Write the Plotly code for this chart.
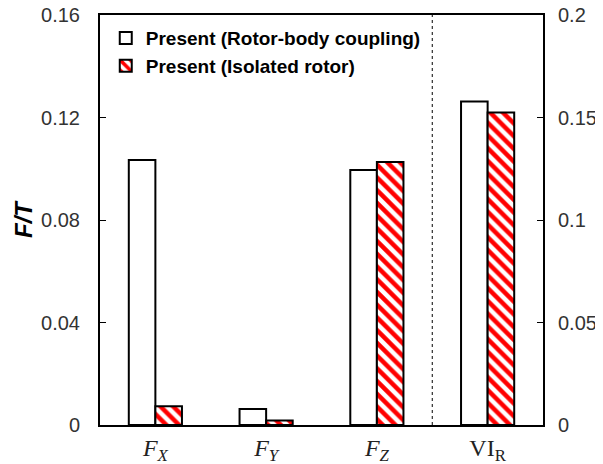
import plotly.graph_objects as go

categories = ["<i>F</i><sub><i>X</i></sub>", "<i>F</i><sub><i>Y</i></sub>", "<i>F</i><sub><i>Z</i></sub>", "VI<sub>R</sub>"]
force_cats = categories[:3]
vi_cats = categories[3:]
coupled_force = [0.1034, 0.0062, 0.0995]
isolated_force = [0.0073, 0.0018, 0.1026]
coupled_vi = [0.1578]
isolated_vi = [0.1524]
left_ticks = [0, 0.04, 0.08, 0.12, 0.16]
left_labels = ["0", "0.04", "0.08", "0.12", "0.16"]
right_ticks = [0, 0.05, 0.1, 0.15, 0.2]
right_labels = ["0", "0.05", "0.1", "0.15", "0.2"]

W = 0.24
line = dict(color="black", width=2)
hatch = dict(shape="\\", fgcolor="#ff0000", bgcolor="white", size=9, solidity=0.5, fgopacity=1)

fig = go.Figure()
fig.add_trace(go.Bar(x=force_cats, y=coupled_force, name="<b>Present (Rotor-body coupling)</b>",
                     marker=dict(color="white", line=line), width=W, offset=-W,
                     legendgroup="a"))
fig.add_trace(go.Bar(x=force_cats, y=isolated_force, name="<b>Present (Isolated rotor)</b>",
                     marker=dict(color="white", line=line, pattern=hatch), width=W, offset=0,
                     legendgroup="b"))
fig.add_trace(go.Bar(x=vi_cats, y=coupled_vi, showlegend=False, yaxis="y2",
                     marker=dict(color="white", line=line), width=W, offset=-W,
                     legendgroup="a"))
fig.add_trace(go.Bar(x=vi_cats, y=isolated_vi, showlegend=False, yaxis="y2",
                     marker=dict(color="white", line=line, pattern=hatch), width=W, offset=0,
                     legendgroup="b"))

fig.add_shape(type="line", xref="x", yref="paper", x0=2.5, x1=2.5, y0=0, y1=1,
              line=dict(color="black", width=1, dash="dot"))

fig.update_layout(
    width=603, height=464,
    margin=dict(l=92, r=68, t=7, b=47, autoexpand=False),
    paper_bgcolor="white", plot_bgcolor="white",
    barmode="overlay",
    showlegend=True,
    legend=dict(x=0.013, y=0.99, xanchor="left", yanchor="top",
                font=dict(family="Arial, Liberation Sans", size=19, color="black"),
                bgcolor="rgba(0,0,0,0)", traceorder="grouped", tracegroupgap=0, itemwidth=30),
    xaxis=dict(categoryorder="array", categoryarray=categories, automargin=False,
               range=[-0.5, 3.5], showline=True, linecolor="black", linewidth=2,
               mirror=True, ticks="", showgrid=False,
               tickfont=dict(family="Times New Roman, Liberation Serif", size=24, color="#222")),
    yaxis=dict(range=[0, 0.16], tickvals=left_ticks, ticktext=left_labels, automargin=False,
               showline=True, linecolor="black", linewidth=2, mirror=True,
               ticks="inside", ticklen=6, tickwidth=1, tickcolor="black", showgrid=False, zeroline=False,
               ticklabelstandoff=14, ticklabeloverflow="allow",
               tickfont=dict(family="Arial, Liberation Sans", size=20, color="#333"),
               title=dict(text="<b><i>F/T</i></b>", standoff=2,
                          font=dict(family="Arial, Liberation Sans", size=24, color="black"))),
    yaxis2=dict(range=[0, 0.2], tickvals=right_ticks, ticktext=right_labels, automargin=False,
                overlaying="y", side="right", showline=False,
                ticks="inside", ticklen=6, tickwidth=1, tickcolor="black", showgrid=False, zeroline=False,
                ticklabelstandoff=14, ticklabeloverflow="allow",
                tickfont=dict(family="Arial, Liberation Sans", size=20, color="#333")),
)

fig.write_html("out.html")
